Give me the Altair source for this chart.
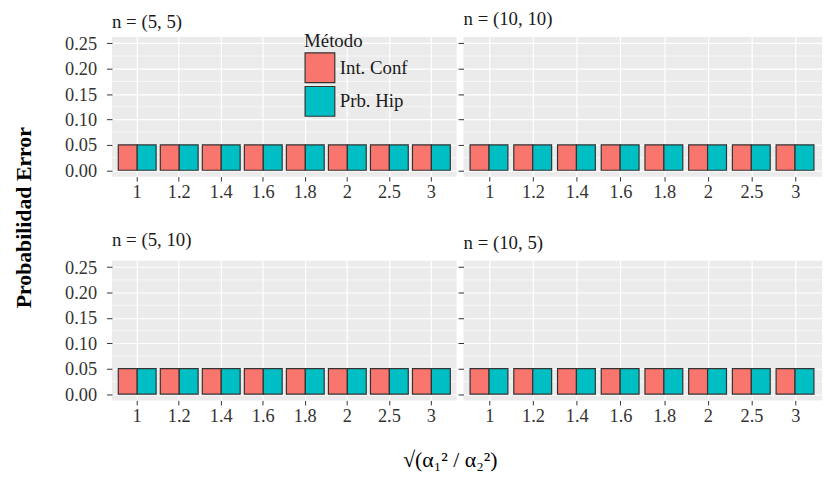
import altair as alt
import pandas as pd

# ---- data ----
panel_names = ["n = (5, 5)", "n = (10, 10)", "n = (5, 10)", "n = (10, 5)"]
ratios = ["1", "1.2", "1.4", "1.6", "1.8", "2", "2.5", "3"]
metodos = ["Int. Conf", "Prb. Hip"]

ic_5_5 = [0.05, 0.05, 0.05, 0.05, 0.05, 0.05, 0.05, 0.05]
ph_5_5 = [0.05, 0.05, 0.05, 0.05, 0.05, 0.05, 0.05, 0.05]
ic_10_10 = [0.05, 0.05, 0.05, 0.05, 0.05, 0.05, 0.05, 0.05]
ph_10_10 = [0.05, 0.05, 0.05, 0.05, 0.05, 0.05, 0.05, 0.05]
ic_5_10 = [0.05, 0.05, 0.05, 0.05, 0.05, 0.05, 0.05, 0.05]
ph_5_10 = [0.05, 0.05, 0.05, 0.05, 0.05, 0.05, 0.05, 0.05]
ic_10_5 = [0.05, 0.05, 0.05, 0.05, 0.05, 0.05, 0.05, 0.05]
ph_10_5 = [0.05, 0.05, 0.05, 0.05, 0.05, 0.05, 0.05, 0.05]

y_ticks = [0.0, 0.05, 0.10, 0.15, 0.20, 0.25]
y_minor = [0.025, 0.075, 0.125, 0.175, 0.225]
colors = ["#F8766D", "#00BFC4"]

SERIF = "Liberation Serif"
LEFT_W, RIGHT_W, PANEL_H = 348, 362, 141


def panel(name, ic, ph, left, legend):
    df = pd.DataFrame({
        "ratio": ratios + ratios,
        "metodo": [metodos[0]] * len(ratios) + [metodos[1]] * len(ratios),
        "prob": ic + ph,
    })
    yscale = alt.Scale(domain=[-0.0125, 0.2625], nice=False, zero=False)
    yaxis = alt.Axis(title=None, values=y_ticks, format=".2f",
                     labels=left, grid=True)
    if legend:
        leg = alt.Legend(
            orient="none", legendX=194, legendY=-5, title="Método",
            symbolType="square", symbolSize=900,
            symbolStrokeColor="#333333", symbolStrokeWidth=1.2,
            titleFont=SERIF, titleFontSize=19, titleFontWeight="normal",
            titleColor="#1a1a1a", titlePadding=1,
            labelFont=SERIF, labelFontSize=19, labelColor="#1a1a1a",
            labelOffset=4, rowPadding=-5, padding=0,
        )
    else:
        leg = None
    bars = alt.Chart(df).mark_bar(stroke="#333333", strokeWidth=1.2).encode(
        x=alt.X("ratio:N", sort=ratios,
                scale=alt.Scale(paddingInner=0.1, paddingOuter=0.15),
                axis=alt.Axis(title=None, labelAngle=0, bandPosition=0.5,
                              grid=True)),
        xOffset=alt.XOffset("metodo:N", sort=metodos,
                            scale=alt.Scale(paddingInner=0, paddingOuter=0)),
        y=alt.Y("prob:Q", scale=yscale, axis=yaxis),
        color=alt.Color("metodo:N", sort=metodos,
                        scale=alt.Scale(domain=metodos, range=colors),
                        legend=leg),
    )
    minor = alt.Chart(pd.DataFrame({"m": y_minor})).mark_rule(
        color="white", strokeWidth=0.6
    ).encode(y=alt.Y("m:Q", scale=yscale, axis=yaxis))
    return alt.layer(minor, bars).properties(
        width=LEFT_W if left else RIGHT_W,
        height=PANEL_H,
        title=alt.TitleParams(name, anchor="start", frame="group",
                              font=SERIF, fontSize=19, fontWeight="normal",
                              color="#1a1a1a", offset=0 if legend else 8),
    )


row1 = alt.hconcat(
    panel(panel_names[0], ic_5_5, ph_5_5, True, True),
    panel(panel_names[1], ic_10_10, ph_10_10, False, False),
    spacing=0,
).resolve_scale(color="independent").resolve_legend(color="independent")

row2 = alt.hconcat(
    panel(panel_names[2], ic_5_10, ph_5_10, True, False),
    panel(panel_names[3], ic_10_5, ph_10_5, False, False),
    spacing=0,
).resolve_scale(color="independent").resolve_legend(color="independent")

grid = alt.vconcat(row1, row2, spacing=30).properties(
    title=alt.TitleParams("Probabilidad Error", orient="left", anchor="middle",
                          font=SERIF, fontSize=22,
                          fontWeight="bold", color="black", offset=29)
).resolve_scale(color="independent").resolve_legend(color="independent")

chart = alt.vconcat(grid).properties(
    title=alt.TitleParams("√(α₁² / α₂²)", orient="bottom", anchor="middle",
                          font=SERIF, fontSize=22,
                          fontWeight="normal", color="black", offset=25,
                          dx=33),
    padding={"left": 5, "top": 0, "right": 0, "bottom": 0},
).resolve_scale(color="independent").resolve_legend(color="independent").configure_view(
    fill="#EBEBEB", stroke=None
).configure_axis(
    domain=False, gridColor="white", gridWidth=1.2,
    tickColor="#333333", tickWidth=1,
    labelFont=SERIF, labelFontSize=18.5, labelColor="#333333",
).configure_axisX(
    tickSize=4.5, labelPadding=2,
).configure_axisY(
    tickSize=5.5, labelPadding=10,
)

chart.save("out.html", embed_options={"renderer": "svg", "actions": False})
